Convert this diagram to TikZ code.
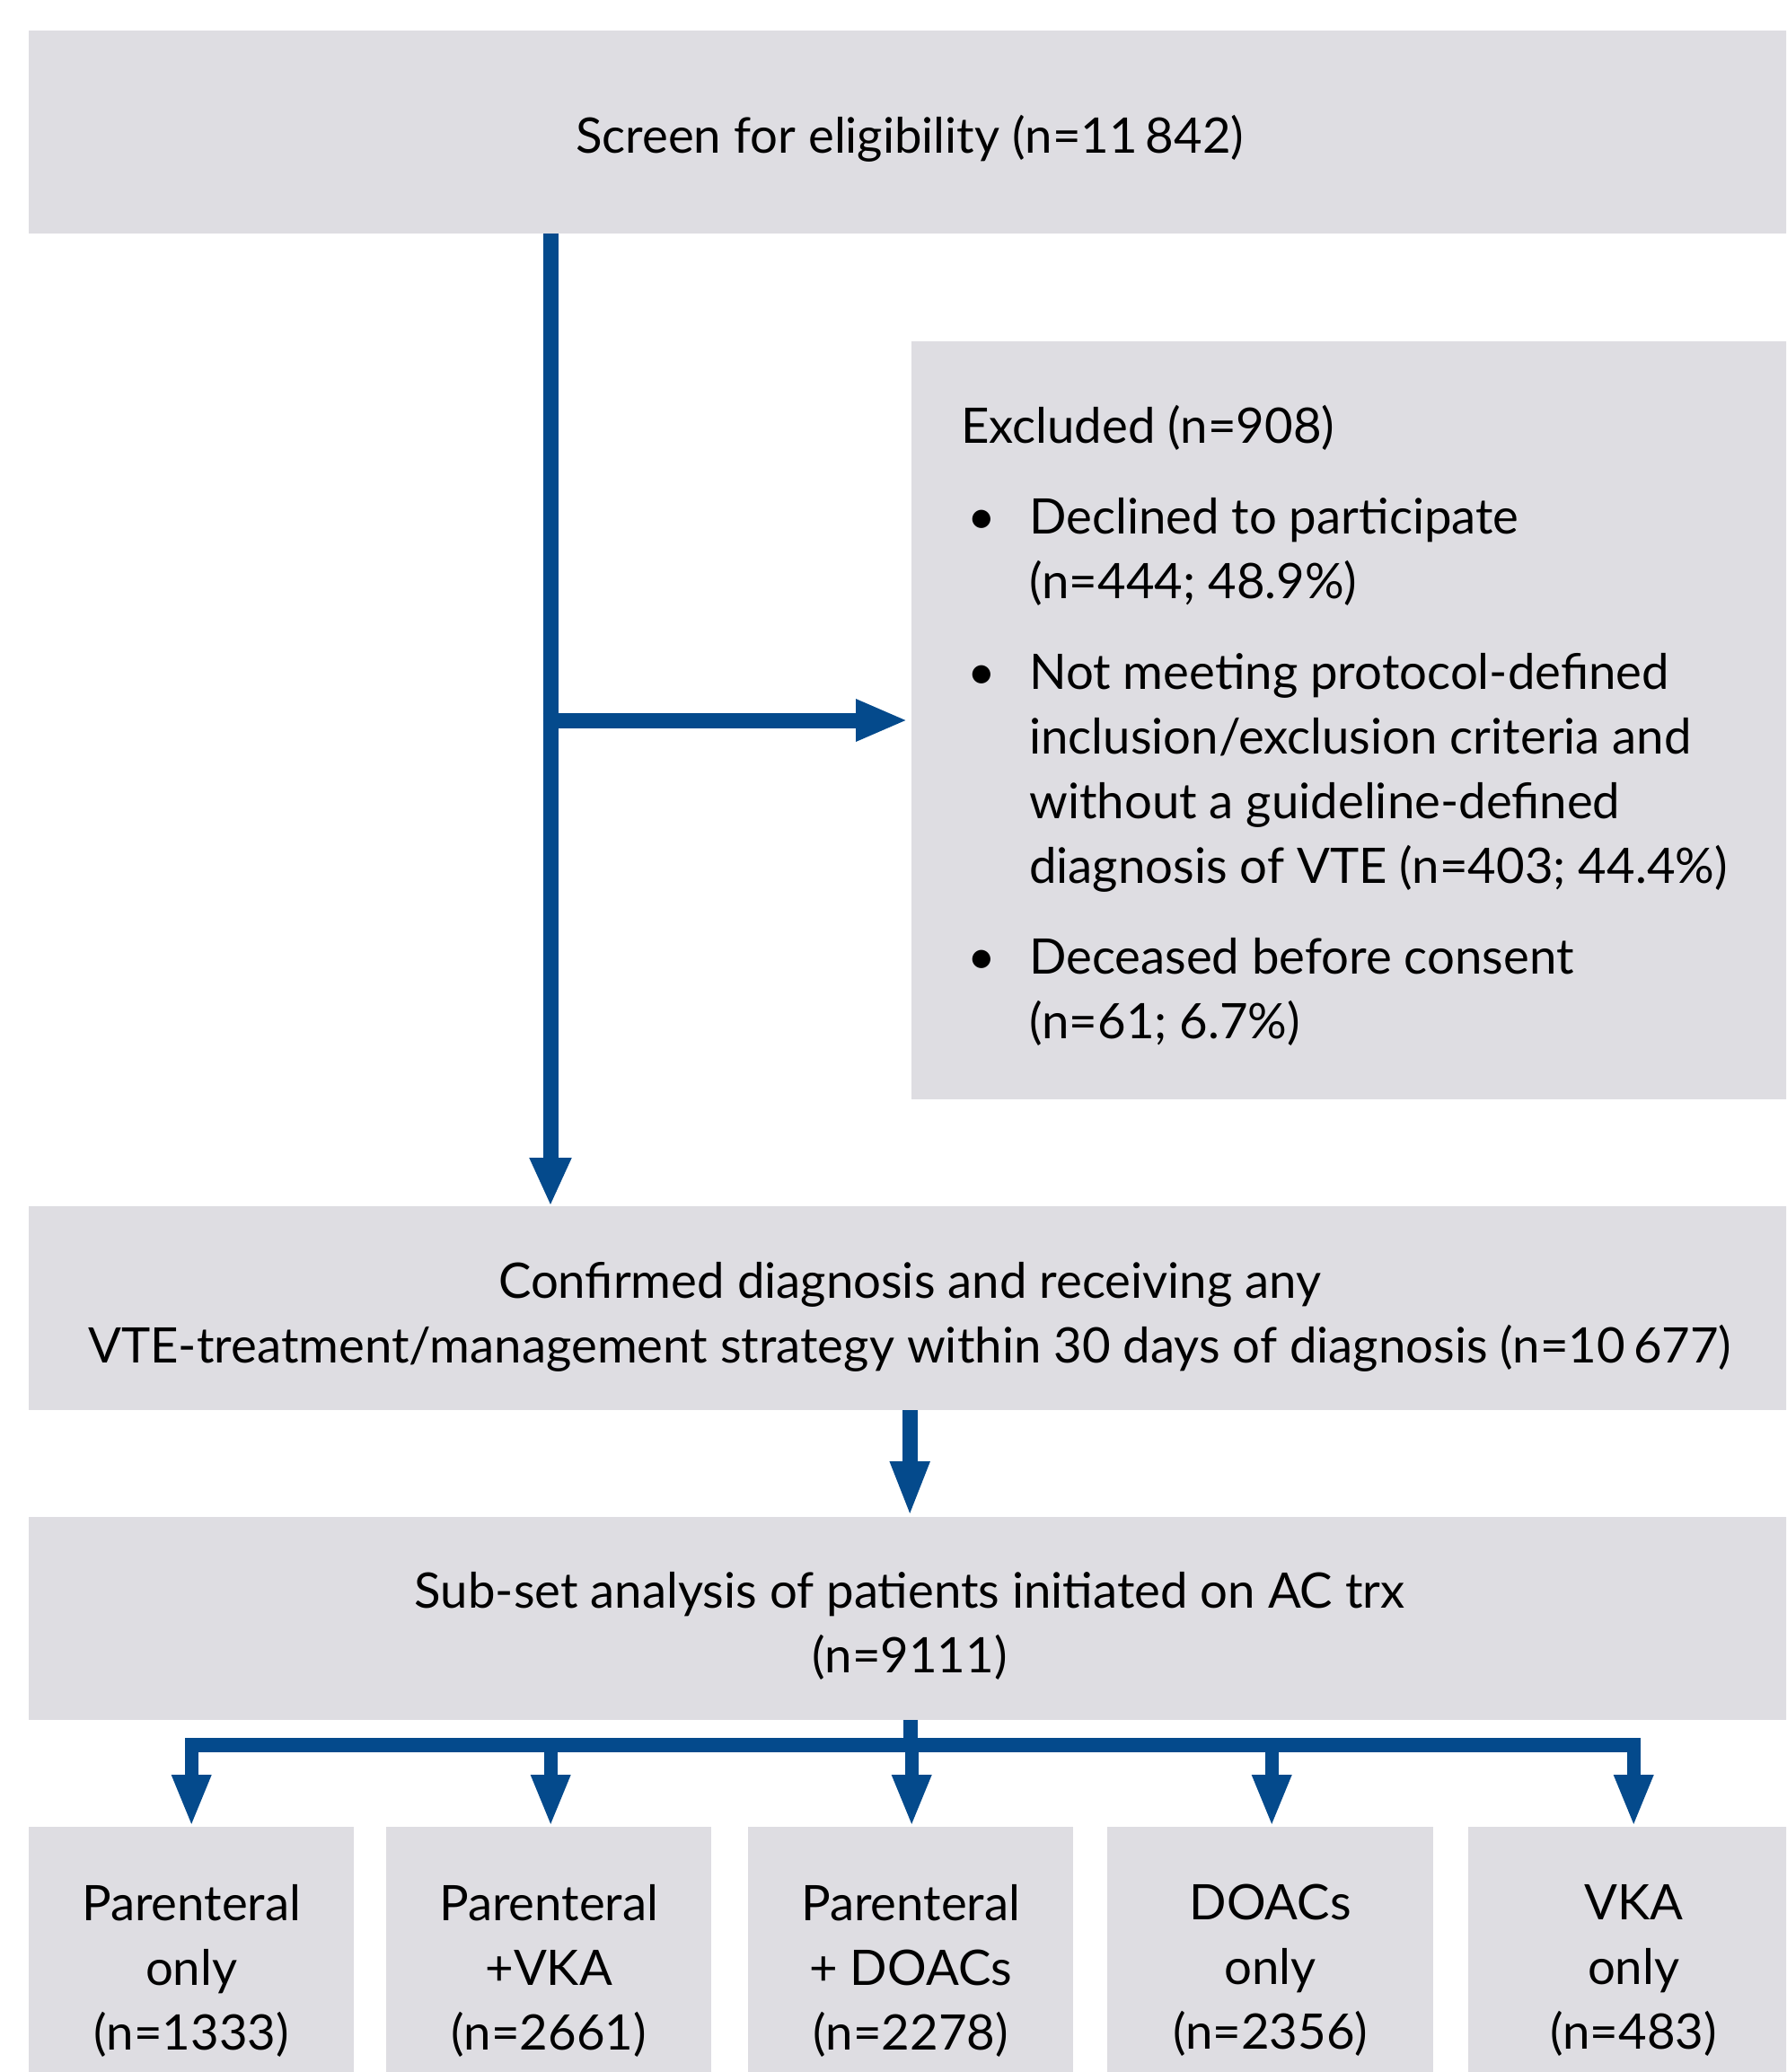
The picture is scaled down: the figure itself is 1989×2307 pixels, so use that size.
\documentclass[tikz,border=0pt]{standalone}
\usepackage{fontspec}
\setmainfont{Lato}
\usetikzlibrary{arrows.meta}
\definecolor{boxgray}{RGB}{222,221,226}
\definecolor{arrblue}{RGB}{4,74,140}
\begin{document}
\begin{tikzpicture}[x=1pt,y=-1pt,
  box/.style={fill=boxgray, draw=none, rectangle, inner sep=0pt, anchor=north west},
  txt/.style={align=center, inner sep=0pt, font=\fontsize{54.5}{72}\selectfont},
  flow/.style={draw=arrblue, fill=arrblue},
]
\clip (0,0) rectangle (1989,2307);
\fill[white] (0,0) rectangle (1989,2307);
% boxes
\node[box, minimum width=1962pt, minimum height=226pt] (top) at (32,34) {};
\node[box, minimum width=1000pt, minimum height=844pt] (excl) at (1015,380) {};
\node[box, minimum width=1962pt, minimum height=227pt] (conf) at (32,1343) {};
\node[box, minimum width=1962pt, minimum height=226pt] (sub) at (32,1689) {};
\node[box, minimum width=362pt, minimum height=314pt] (b1) at (32,2034) {};
\node[box, minimum width=362pt, minimum height=314pt] (b2) at (430,2034) {};
\node[box, minimum width=362pt, minimum height=314pt] (b3) at (833,2034) {};
\node[box, minimum width=363pt, minimum height=314pt] (b4) at (1233,2034) {};
\node[box, minimum width=368pt, minimum height=314pt] (b5) at (1635,2034) {};
% texts
\node[txt] (topT) at ([yshift=-7pt]top.center) {Screen for eligibility (n=11\,842)};
\node[txt, align=left, anchor=west] (exclT) at ([xshift=55pt,yshift=-6pt]excl.west)
  {Excluded (n=908)\\[29pt]
   \makebox[76pt][l]{\hspace{7pt}\textbullet}Declined to participate\\
   \hspace*{76pt}(n=444; 48.9\%)\\[29pt]
   \makebox[76pt][l]{\hspace{7pt}\textbullet}Not meeting protocol-defined\\
   \hspace*{76pt}inclusion/exclusion criteria and\\
   \hspace*{76pt}without a guideline-defined\\
   \hspace*{76pt}diagnosis of VTE (n=403; 44.4\%)\\[29pt]
   \makebox[76pt][l]{\hspace{7pt}\textbullet}Deceased before consent\\
   \hspace*{76pt}(n=61; 6.7\%)};
\node[txt] (confT) at ([yshift=-10pt]conf.center)
  {Confirmed diagnosis and receiving any\\VTE-treatment/management strategy within 30 days of diagnosis (n=10\,677)};
\node[txt] (subT) at ([yshift=-8pt]sub.center)
  {Sub-set analysis of patients initiated on AC trx\\(n=9111)};
\node[txt] (b1T) at ([yshift=-3pt]b1.center) {Parenteral\\only\\(n=1333)};
\node[txt] (b2T) at ([yshift=-3pt]b2.center) {Parenteral\\+VKA\\(n=2661)};
\node[txt] (b3T) at ([yshift=-3pt]b3.center) {Parenteral\\+ DOACs\\(n=2278)};
\node[txt] (b4T) at ([yshift=-3pt]b4.center) {DOACs\\only\\(n=2356)};
\node[txt] (b5T) at ([yshift=-3pt]b5.center) {VKA\\only\\(n=483)};
% connectors
\coordinate (stem) at (613,0);
\coordinate (br) at (613,802);
\draw[flow, line width=17pt, -{Triangle[length=54pt,width=43pt]}]
  (top.south -| stem) -- (conf.north -| stem);
\draw[flow, line width=17pt, -{Triangle[length=58pt,width=43pt]}, shorten >=4pt]
  ([xshift=-8.5pt]br) -- (excl.west |- br);
\draw[flow, line width=17pt, -{Triangle[length=62pt,width=40pt]}]
  (conf.south) -- (sub.north);
\coordinate (bar) at (1014,1943);
\coordinate (barL) at (206,1943);
\coordinate (barR) at (1827,1943);
\draw[flow, line width=16pt] (sub.south -| bar) -- (bar);
\draw[flow, line width=16pt] (barL) -- (barR);
\foreach \b/\dx in {b1/0,b2/2,b3/1,b4/1.5,b5/0} {
  \draw[flow, line width=15pt, -{Triangle[length=58pt,width=40pt]}]
    ([xshift=\dx pt]\b.north |- bar) -- ([xshift=\dx pt]\b.north);
}
\end{tikzpicture}
\end{document}
